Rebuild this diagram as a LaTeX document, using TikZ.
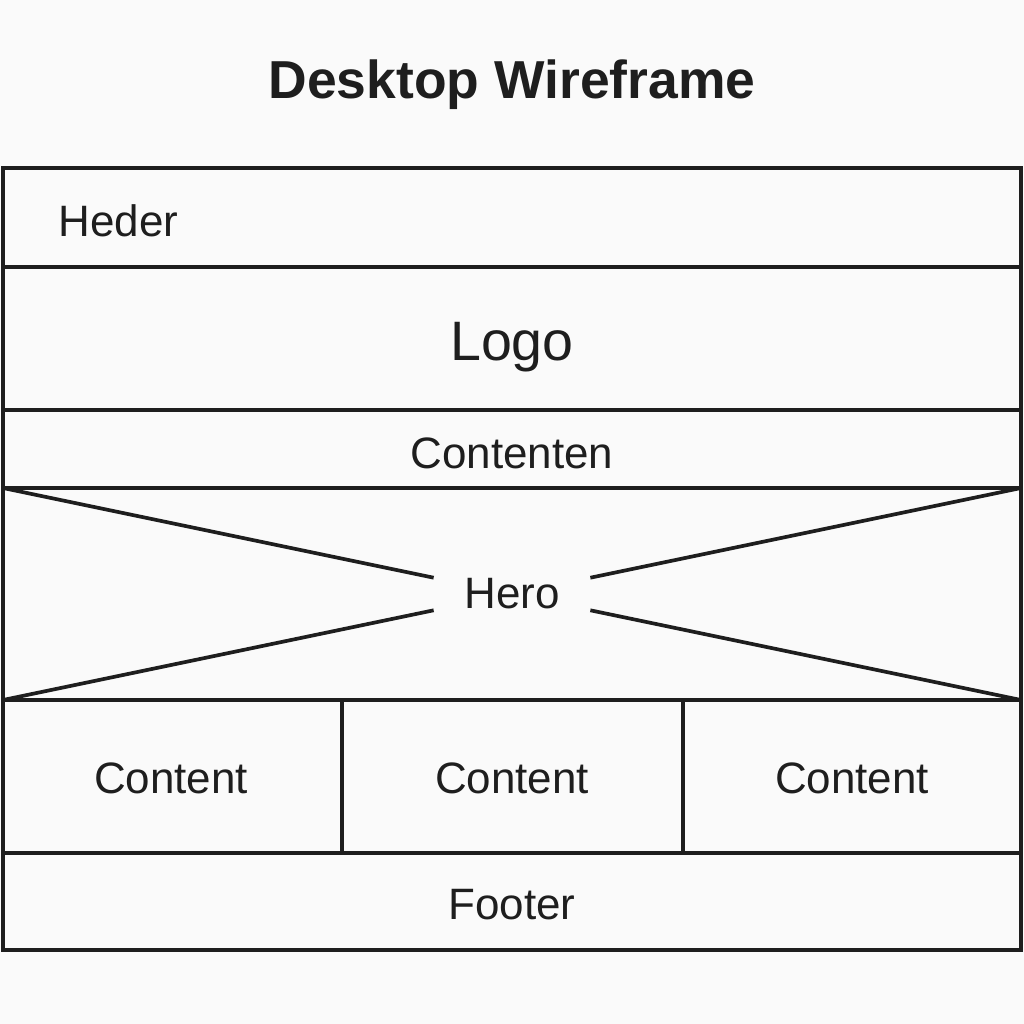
\documentclass[tikz,border=0pt]{standalone}
\usepackage{fontspec}
\setmainfont{Liberation Sans}
\definecolor{bgcol}{RGB}{250,250,250}
\definecolor{inkcol}{RGB}{30,30,30}
\begin{document}
\begin{tikzpicture}[x=0.01cm, y=-0.01cm]
\tikzset{ wire/.style={draw=inkcol, line width=1.05pt},
          lbl/.style={text=inkcol, font=\fontsize{12.5}{15}\selectfont, inner sep=0pt},
          biglbl/.style={text=inkcol, font=\fontsize{15.8}{18}\selectfont, inner sep=0pt} }
\fill [bgcol] (0,0) rectangle (1024,1024);
\useasboundingbox (0,0) rectangle (1024,1024);

\node [text=inkcol, font=\fontsize{15.2}{18}\selectfont\bfseries] (title) at (512,85) {Desktop Wireframe};

% rows
\draw [wire] (3,168) rectangle (1021,950);
\draw [wire] (3,267) -- (1021,267);
\draw [wire] (3,410) -- (1021,410);
\draw [wire] (3,488) -- (1021,488);
\draw [wire] (3,700) -- (1021,700);
\draw [wire] (3,853) -- (1021,853);

% columns
\draw [wire] (342,700) -- (342,853);
\draw [wire] (683,700) -- (683,853);

\node [lbl, anchor=west] (heder) at (58,221) {Heder};
\node [biglbl] (logo) at (512,347) {Logo};
\node [lbl] (contenten) at (512,453) {Contenten};

% hero cross
\coordinate (HNW) at (3,488);
\coordinate (HNE) at (1021,488);
\coordinate (HSW) at (3,700);
\coordinate (HSE) at (1021,700);
\node [lbl, inner xsep=30pt*0.2845, inner ysep=10pt*0.2845] (hero) at (512,594) {Hero};
\draw [wire] (HNW) -- (hero);
\draw [wire] (HNE) -- (hero);
\draw [wire] (HSW) -- (hero);
\draw [wire] (HSE) -- (hero);

\node [lbl] (contA) at (171,778) {Content};
\node [lbl] (contB) at (512,778) {Content};
\node [lbl] (contC) at (852,778) {Content};

\node [lbl] (footer) at (512,905) {Footer};

\end{tikzpicture}
\end{document}
